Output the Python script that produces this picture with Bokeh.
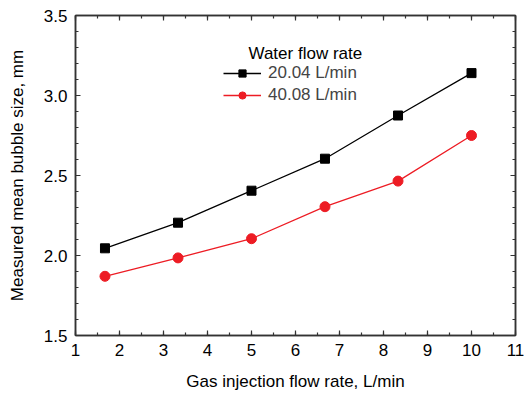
from bokeh.plotting import figure
from bokeh.models import (Range1d, LinearAxis, SingleIntervalTicker, NumeralTickFormatter,
                          Legend, LegendItem, Label)
from bokeh.embed import file_html
from bokeh.resources import INLINE

# data
gas_flow = [1.67, 3.33, 5.0, 6.67, 8.33, 10.0]
size_20 = [2.045, 2.205, 2.405, 2.605, 2.875, 3.14]
size_40 = [1.87, 1.985, 2.105, 2.305, 2.465, 2.75]
series_labels = ["20.04 L/min", "40.08 L/min"]
legend_title = "Water flow rate"
x_label = "Gas injection flow rate, L/min"
y_label = "Measured mean bubble size, mm"

FONT = "Liberation Sans"
RED = "#ED1C24"

p = figure(width=524, height=394, output_backend="svg", toolbar_location=None,
           x_range=Range1d(1, 11), y_range=Range1d(1.5, 3.5),
           min_border_left=75, min_border_right=9, min_border_top=15, min_border_bottom=59,
           x_axis_location=None, y_axis_location=None)
p.grid.visible = False
p.outline_line_color = "#333333"
p.outline_line_width = 1.5
p.background_fill_color = "white"
p.border_fill_color = "white"

def style_axis(ax, show_labels):
    ax.axis_line_color = "#333333"
    ax.axis_line_width = 1.5
    ax.major_tick_in = 5
    ax.major_tick_out = 0
    ax.minor_tick_in = 3
    ax.minor_tick_out = 0
    ax.major_tick_line_color = "#333333"
    ax.minor_tick_line_color = "#333333"
    ax.major_tick_line_width = 1.2
    ax.minor_tick_line_width = 1.2
    if show_labels:
        ax.major_label_text_font = FONT
        ax.major_label_text_font_size = "17px"
        ax.major_label_text_color = "black"
        ax.axis_label_text_font = FONT
        ax.axis_label_text_font_size = "17px"
        ax.axis_label_text_font_style = "normal"
        ax.axis_label_text_color = "black"
    else:
        ax.major_label_text_font_size = "0px"
        ax.major_label_standoff = 0
        ax.major_label_text_color = None

xt = SingleIntervalTicker(interval=1, num_minor_ticks=2)
yt = SingleIntervalTicker(interval=0.5, num_minor_ticks=5)

xb = LinearAxis(ticker=xt, axis_label=x_label)
style_axis(xb, True)
xb.major_label_standoff = 8
xb.axis_label_standoff = 13
p.add_layout(xb, "below")

yl = LinearAxis(ticker=yt, axis_label=y_label, formatter=NumeralTickFormatter(format="0.0"))
style_axis(yl, True)
yl.major_label_standoff = 8
yl.axis_label_standoff = 14
p.add_layout(yl, "left")

xa = LinearAxis(ticker=SingleIntervalTicker(interval=1, num_minor_ticks=2))
style_axis(xa, False)
p.add_layout(xa, "above")

yr = LinearAxis(ticker=SingleIntervalTicker(interval=0.5, num_minor_ticks=5))
style_axis(yr, False)
p.add_layout(yr, "right")

l1 = p.line(gas_flow, size_20, line_color="black", line_width=1.3)
m1 = p.scatter(gas_flow, size_20, marker="square", size=9, fill_color="black", line_color="black")
l2 = p.line(gas_flow, size_40, line_color=RED, line_width=1.3)
m2 = p.scatter(gas_flow, size_40, marker="circle", size=10, fill_color=RED, line_color=RED)

legend = Legend(items=[LegendItem(label=series_labels[0], renderers=[l1, m1]),
                       LegendItem(label=series_labels[1], renderers=[l2, m2])],
                location=(148, 230), border_line_color=None, background_fill_alpha=0,
                label_text_font=FONT, label_text_font_size="17px",
                glyph_width=38, glyph_height=18, spacing=2, padding=0, margin=0,
                label_standoff=7, label_height=18)
p.add_layout(legend, "center")

p.add_layout(Label(x=173, y=282, x_units="screen", y_units="screen", text=legend_title,
                   text_font=FONT, text_font_size="17px", text_baseline="middle",
                   text_color="black"))

open("out.html", "w").write(file_html(p, INLINE))
